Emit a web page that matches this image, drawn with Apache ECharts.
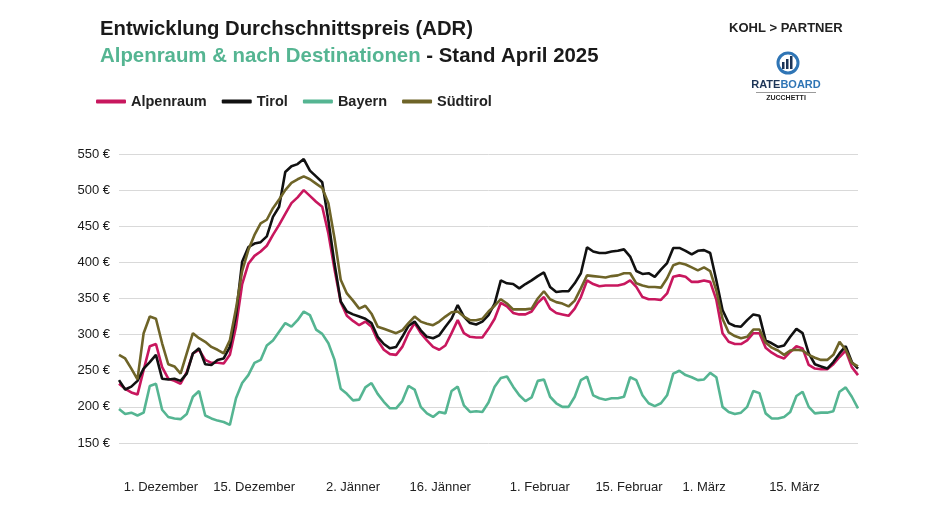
<!DOCTYPE html>
<html>
<head>
<meta charset="utf-8">
<script src="https://cdn.jsdelivr.net/npm/echarts@6/dist/echarts.min.js"></script>
<style>
html,body{margin:0;padding:0;background:#fff;}
#chart{width:950px;height:511px;}
</style>
</head>
<body>
<div id="chart"></div>
<script>
// ---- categories: one per day, 25.11.2024 – 25.03.2025 ----
const dates = [
 '25.11','26.11','27.11','28.11','29.11','30.11',
 '01.12','02.12','03.12','04.12','05.12','06.12','07.12','08.12','09.12','10.12',
 '11.12','12.12','13.12','14.12','15.12','16.12','17.12','18.12','19.12','20.12',
 '21.12','22.12','23.12','24.12','25.12','26.12','27.12','28.12','29.12','30.12','31.12',
 '01.01','02.01','03.01','04.01','05.01','06.01','07.01','08.01','09.01','10.01',
 '11.01','12.01','13.01','14.01','15.01','16.01','17.01','18.01','19.01','20.01',
 '21.01','22.01','23.01','24.01','25.01','26.01','27.01','28.01','29.01','30.01','31.01',
 '01.02','02.02','03.02','04.02','05.02','06.02','07.02','08.02','09.02','10.02',
 '11.02','12.02','13.02','14.02','15.02','16.02','17.02','18.02','19.02','20.02',
 '21.02','22.02','23.02','24.02','25.02','26.02','27.02','28.02',
 '01.03','02.03','03.03','04.03','05.03','06.03','07.03','08.03','09.03','10.03',
 '11.03','12.03','13.03','14.03','15.03','16.03','17.03','18.03','19.03','20.03',
 '21.03','22.03','23.03','24.03','25.03'
];

// ---- tick labels ----
const tickDates  = ['01.12','15.12','02.01','16.01','01.02','15.02','01.03','15.03'];
const tickLabels = ['1. Dezember','15. Dezember','2. Jänner','16. Jänner','1. Februar','15. Februar','1. März','15. März'];

// ---- series values (ADR in €) ----
const alpenraum = [
 232,225,220,217,251,284,287,255,239,236,232,
 248,274,279,265,261,261,260,272,311,370,
 398,409,415,423,438,452,467,482,490,500,
 492,484,477,440,390,345,326,319,313,318,
 311,292,279,273,272,283,302,316,302,292,
 283,279,285,302,320,302,297,296,296,308,
 322,344,339,330,328,328,332,344,352,336,
 330,328,326,336,352,375,370,367,368,368,
 368,370,375,366,352,349,349,348,357,380,
 382,380,373,373,375,373,348,302,290,287,
 287,292,302,302,282,275,270,267,276,284,
 281,258,253,252,252,259,269,278,255,244
];
const tirol = [
 237,224,228,236,253,262,272,239,238,239,236,
 246,274,281,259,258,265,267,283,327,401,
 421,426,428,436,463,477,525,533,536,543,
 527,519,511,458,398,346,332,328,325,322,
 316,297,287,281,283,297,312,318,306,297,
 295,299,311,322,341,325,316,314,318,327,
 343,375,371,370,364,370,375,381,386,366,
 359,360,360,371,385,421,415,413,413,415,
 416,418,408,388,384,385,380,390,399,420,
 420,416,411,416,417,413,375,334,316,312,
 311,320,328,326,292,288,283,285,297,308,
 302,274,259,256,253,262,274,284,262,253
];
const bayern = [
 197,190,192,188,192,229,232,196,186,184,183,
 190,214,222,188,184,181,179,175,212,233,
 244,261,265,285,292,304,316,311,320,332,
 327,307,301,288,265,225,218,209,210,227,
 233,218,207,198,198,208,229,224,200,191,
 186,193,191,222,228,202,193,194,193,206,
 228,240,242,228,216,208,213,236,238,214,
 205,200,200,214,237,242,216,212,210,212,
 212,214,241,237,216,205,201,205,216,246,
 250,244,241,237,238,247,241,200,193,190,
 192,200,222,219,191,184,184,186,193,215,
 221,200,191,192,192,194,221,227,214,198
];
const suedtirol = [
 272,267,253,238,302,325,322,288,259,256,246,
 274,302,295,290,283,279,274,292,336,388,
 417,438,454,459,475,487,500,510,515,519,
 515,509,503,482,433,376,357,347,336,340,
 329,311,308,305,302,306,316,325,318,315,
 313,318,325,331,332,325,320,320,322,332,
 340,349,343,335,335,335,336,350,360,349,
 345,343,339,347,364,382,381,380,379,381,
 382,385,385,371,368,366,366,365,378,396,
 399,397,393,389,393,388,361,322,303,298,
 295,297,307,307,289,282,278,272,278,279,
 278,272,268,265,265,272,290,279,261,256
];

const seriesNames = ['Alpenraum','Tirol','Bayern','Südtirol'];
const seriesData  = [alpenraum, tirol, bayern, suedtirol];
const colors = ['#C8175E','#111111','#55B592','#6E6428'];

const FONT = '"Liberation Sans", Arial, sans-serif';
const chart = echarts.init(document.getElementById('chart'), null, {renderer:'canvas'});

// horizontal nudges of the date labels (layout only), in px
const labelShift = {'01.12':5,'15.12':12,'02.01':0,'16.01':1,'01.02':2,'15.02':5,'01.03':-6,'15.03':-2};
const labelRich = {};
tickDates.forEach(function(d){
  const s = labelShift[d];
  labelRich['t' + d.replace('.','_')] = {fontFamily:FONT, fontSize:13, color:'#222',
    padding: s >= 0 ? [0,0,0,2*s] : [0,-2*s,0,0]};
});

const option = {
  backgroundColor:'#ffffff',
  animation:false,
  textStyle:{fontFamily:FONT},
  title:[
    {text:'Entwicklung Durchschnittspreis (ADR)', left:95, top:14,
     textStyle:{fontFamily:FONT, fontSize:20.3, fontWeight:'bold', color:'#1a1a1a'}},
    {text:'{g|Alpenraum & nach Destinationen}{b| - Stand April 2025}', left:95, top:41,
     textStyle:{rich:{
       g:{fontFamily:FONT, fontSize:20.4, fontWeight:'bold', color:'#55B592'},
       b:{fontFamily:FONT, fontSize:20.4, fontWeight:'bold', color:'#1a1a1a'}
     }}}
  ],
  legend:{
    data:seriesNames, left:91, top:89, icon:'roundRect', itemWidth:30, itemHeight:4,
    itemGap:15, textStyle:{fontFamily:FONT, fontSize:14.5, fontWeight:'bold', color:'#222'}
  },
  grid:{left:119, right:92, top:154, bottom:68, containLabel:false, outerBoundsMode:'none'},
  xAxis:{
    type:'category', data:dates, boundaryGap:false,
    axisLine:{show:false}, axisTick:{show:false}, splitLine:{show:false},
    axisLabel:{
      margin:38, fontFamily:FONT, fontSize:13, color:'#222',
      interval:function(idx, val){ return tickDates.indexOf(val) >= 0; },
      formatter:function(val){
        const k = tickDates.indexOf(val);
        return k >= 0 ? '{t' + val.replace('.','_') + '|' + tickLabels[k] + '}' : '';
      },
      rich:labelRich
    }
  },
  yAxis:{
    type:'value', min:150, max:550, interval:50,
    axisLine:{show:false}, axisTick:{show:false},
    splitLine:{lineStyle:{color:'#d9d9d9', width:1}},
    axisLabel:{margin:9, fontFamily:FONT, fontSize:13, color:'#1a1a1a', formatter:'{value} €'}
  },
  series: seriesNames.map(function(n, k){
    return {name:n, type:'line', data:seriesData[k], showSymbol:false, symbol:'none',
      lineStyle:{color:colors[k], width:2.6}, itemStyle:{color:colors[k]}};
  }),
  graphic:[
    {type:'text', left:729, top:22, style:{text:'KOHL > PARTNER', font:'bold 13px '+FONT, fill:'#222'}},
    {type:'circle', shape:{cx:788, cy:63, r:10}, style:{fill:'none', stroke:'#2F75B5', lineWidth:3}},
    {type:'rect', shape:{x:782, y:62, width:2.5, height:7}, style:{fill:'#1D3557'}},
    {type:'rect', shape:{x:786, y:59, width:2.5, height:10}, style:{fill:'#1D3557'}},
    {type:'rect', shape:{x:790, y:56, width:2.5, height:13}, style:{fill:'#1D3557'}},
    {type:'text', x:786, y:85, style:{text:'{a|RATE}{b|BOARD}', align:'center', verticalAlign:'middle',
      rich:{a:{font:'bold 11px '+FONT, fill:'#1D3557'}, b:{font:'bold 11px '+FONT, fill:'#2F75B5'}}}},
    {type:'line', shape:{x1:756, y1:92.5, x2:816, y2:92.5}, style:{stroke:'#555', lineWidth:0.6}},
    {type:'text', x:786, y:98.5, style:{text:'ZUCCHETTI', align:'center', verticalAlign:'middle', font:'bold 7px '+FONT, fill:'#222'}}
  ]
};
chart.setOption(option);
</script>
</body>
</html>
